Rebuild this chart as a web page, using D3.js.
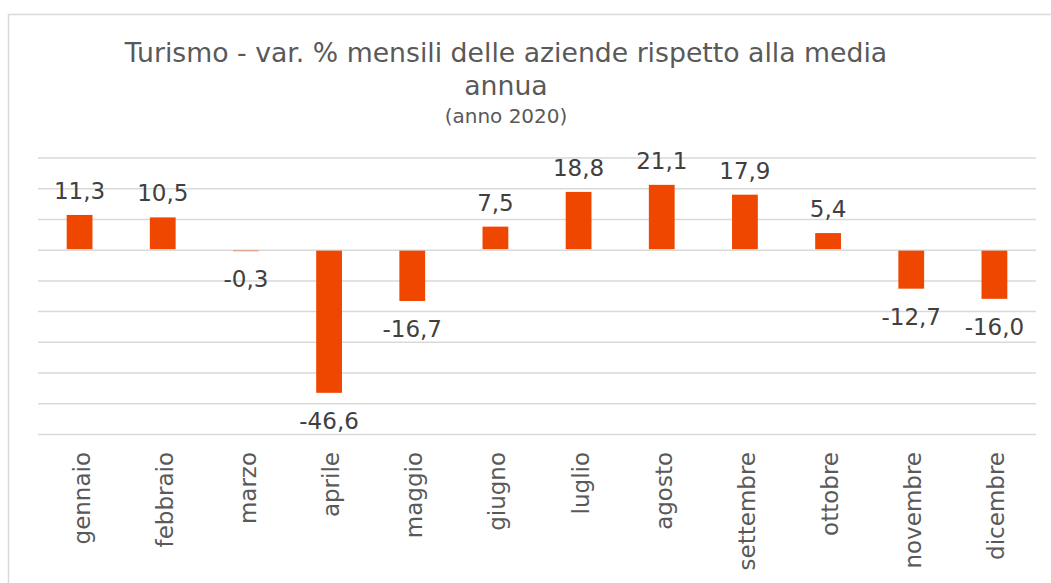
<!DOCTYPE html>
<html>
<head>
<meta charset="utf-8">
<script src="https://cdn.jsdelivr.net/npm/d3@7"></script>
<style>
  body { margin: 0; background: #fff; }
  svg { display: block; font-family: Verdana, "DejaVu Sans", sans-serif; }
</style>
</head>
<body>
<div id="vis"></div>
<script>
// data
var months = ['gennaio', 'febbraio', 'marzo', 'aprile', 'maggio', 'giugno',
  'luglio', 'agosto', 'settembre', 'ottobre', 'novembre', 'dicembre'];
var values = [11.3, 10.5, -0.3, -46.6, -16.7, 7.5, 18.8, 21.1, 17.9, 5.4, -12.7, -16.0];
var yTicks = [30, 20, 10, 0, -10, -20, -30, -40, -50, -60];

var width = 1051;
var height = 583;
var margin = { top: 157.5, left: 38, bottom: 149, right: 15 };

var svg = d3.select('#vis').append('svg')
  .attr('width', width)
  .attr('height', height);

// chart frame (only left and top edges are visible in the picture)
svg.append('rect')
  .attr('x', 8.5)
  .attr('y', 14.5)
  .attr('width', 1100)
  .attr('height', 700)
  .attr('fill', 'none')
  .attr('stroke', '#d9d9d9')
  .attr('stroke-width', 1.5);

var x = d3.scaleBand()
  .domain(months)
  .range([margin.left, width - margin.right])
  .padding(0);

var y = d3.scaleLinear()
  .domain([-60, 30])
  .range([height - margin.bottom, margin.top]);

var locale = d3.formatLocale({ decimal: ',', thousands: '.', grouping: [3], currency: ['', '€'], minus: '-' });
var fmt = locale.format('.1f');

// gridlines
var grid = svg.append('g')
  .attr('transform', 'translate(' + margin.left + ',0)')
  .call(d3.axisLeft(y)
    .tickValues(yTicks)
    .tickSize(-(width - margin.left - margin.right))
    .tickFormat(''));
grid.select('.domain').remove();
grid.selectAll('.tick line')
  .attr('stroke', '#d9d9d9')
  .attr('stroke-width', 1.5);

var barW = x.bandwidth() * 0.31;

// bars
svg.selectAll('.bar')
  .data(values)
  .enter().append('rect')
  .attr('class', 'bar')
  .attr('x', function(d, i) { return x(months[i]) + x.bandwidth() / 2 - barW / 2; })
  .attr('y', function(d) { return d >= 0 ? y(d) : y(0) + 1; })
  .attr('width', barW)
  .attr('height', function(d) { return Math.max(0.5, Math.abs(y(d) - y(0)) - (d >= 0 ? 0.5 : 1)); })
  .attr('fill', '#ef4600');

// value labels
svg.selectAll('.value')
  .data(values)
  .enter().append('text')
  .attr('class', 'value')
  .attr('x', function(d, i) { return x(months[i]) + x.bandwidth() / 2; })
  .attr('y', function(d) { return d >= 0 ? y(d) - 16 : y(d) + 36; })
  .attr('text-anchor', 'middle')
  .attr('font-size', 23)
  .attr('fill', '#404040')
  .text(function(d) { return fmt(d); });

// category labels (rotated)
svg.selectAll('.month')
  .data(months)
  .enter().append('text')
  .attr('class', 'month')
  .attr('transform', function(d) {
    return 'translate(' + (x(d) + x.bandwidth() / 2 + 10) + ',452) rotate(-90)';
  })
  .attr('text-anchor', 'end')
  .attr('font-size', 23)
  .attr('fill', '#595959')
  .text(function(d) { return d; });

// title
var title = svg.append('text')
  .attr('x', 506)
  .attr('text-anchor', 'middle')
  .attr('fill', '#595959');
title.append('tspan')
  .attr('x', 506).attr('y', 62)
  .attr('font-size', 26.7)
  .text('Turismo - var. % mensili delle aziende rispetto alla media');
title.append('tspan')
  .attr('x', 506).attr('y', 95)
  .attr('font-size', 26.7)
  .text('annua');
title.append('tspan')
  .attr('x', 506).attr('y', 123)
  .attr('font-size', 20)
  .text('(anno 2020)');
</script>
</body>
</html>
